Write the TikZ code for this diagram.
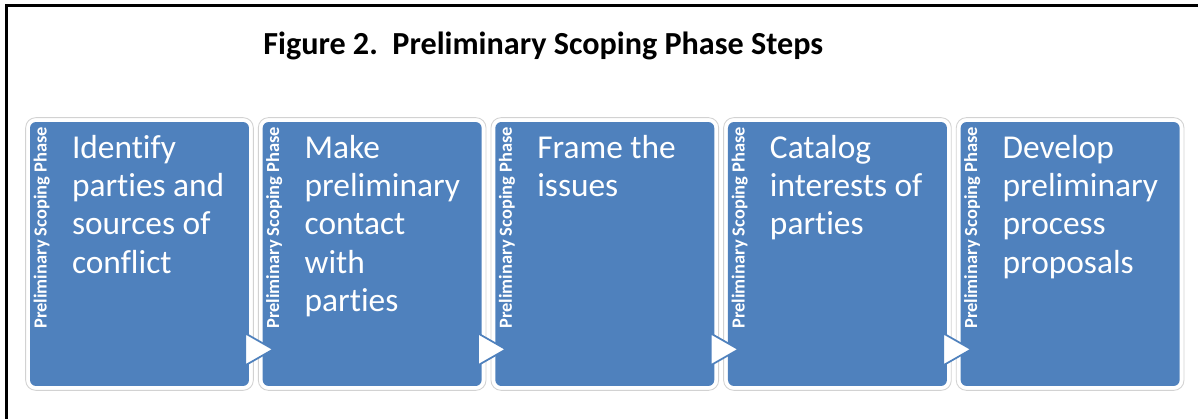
\documentclass[tikz,border=0pt]{standalone}
\usepackage{fontspec}
\setmainfont[Ligatures={NoCommon}]{Carlito}
\usepackage{tikz}
\usetikzlibrary{positioning,fit}
\definecolor{boxblue}{HTML}{4F81BD}
\tikzstyle{stepbox} = [rectangle, fill=boxblue, rounded corners=0.12cm,
                       minimum width=4.38cm, minimum height=5.28cm, inner sep=0pt]
\tikzstyle{halo} = [rectangle, draw=gray!35, line width=0.5pt,
                    rounded corners=0.2cm, inner sep=0.08cm]
\tikzstyle{steptext} = [anchor=north west, align=left, text=white, inner sep=0pt,
                        font=\fontsize{19}{21.8}\selectfont]
\tikzstyle{phase} = [rotate=90, anchor=east, text=white, inner sep=0pt,
                     font=\fontsize{10.5}{12}\selectfont\bfseries]
\tikzstyle{tri} = [fill=white, draw=boxblue, line width=1pt]

\begin{document}
\begin{tikzpicture}[x=0.02cm, y=0.02cm]
    \useasboundingbox (0,0) rectangle (1198,-419);
    \draw [line width=1.9pt] (1198,-5.7) -| (6.7,-419);

    \node [anchor=base west, font=\fontsize{18.3}{22}\selectfont\bfseries, inner sep=0pt]
        (title) at (263,-54) {Figure 2.\ \ Preliminary Scoping Phase Steps};

    \node [stepbox] (s1) at (139.5,-254) {};
    \node [stepbox, right=0.26cm of s1] (s2) {};
    \node [stepbox, right=0.26cm of s2] (s3) {};
    \node [stepbox, right=0.26cm of s3] (s4) {};
    \node [stepbox, right=0.26cm of s4] (s5) {};

    \node [halo, fit=(s1)] (h1) {};
    \node [halo, fit=(s2)] (h2) {};
    \node [halo, fit=(s3)] (h3) {};
    \node [halo, fit=(s4)] (h4) {};
    \node [halo, fit=(s5)] (h5) {};

    \node [phase] (p1) at ([xshift=0.24cm, yshift=-0.1cm]s1.north west) {Preliminary Scoping Phase};
    \node [phase] (p2) at ([xshift=0.24cm, yshift=-0.1cm]s2.north west) {Preliminary Scoping Phase};
    \node [phase] (p3) at ([xshift=0.24cm, yshift=-0.1cm]s3.north west) {Preliminary Scoping Phase};
    \node [phase] (p4) at ([xshift=0.24cm, yshift=-0.1cm]s4.north west) {Preliminary Scoping Phase};
    \node [phase] (p5) at ([xshift=0.24cm, yshift=-0.1cm]s5.north west) {Preliminary Scoping Phase};

    \node [steptext] (t1) at ([xshift=0.84cm, yshift=-0.26cm]s1.north west) {Identify\\parties and\\sources of\\conflict};
    \node [steptext] (t2) at ([xshift=0.84cm, yshift=-0.26cm]s2.north west) {Make\\preliminary\\contact\\with\\parties};
    \node [steptext] (t3) at ([xshift=0.84cm, yshift=-0.26cm]s3.north west) {Frame the\\issues};
    \node [steptext] (t4) at ([xshift=0.84cm, yshift=-0.26cm]s4.north west) {Catalog\\interests of\\parties};
    \node [steptext] (t5) at ([xshift=0.84cm, yshift=-0.26cm]s5.north west) {Develop\\preliminary\\process\\proposals};

    % arrow heads between the steps
    \draw [tri] ([xshift=-0.08cm, yshift=1.06cm]s1.south east) -- ++(28,-16) -- ++(-28,-16) -- cycle;
    \draw [tri] ([xshift=-0.08cm, yshift=1.06cm]s2.south east) -- ++(28,-16) -- ++(-28,-16) -- cycle;
    \draw [tri] ([xshift=-0.08cm, yshift=1.06cm]s3.south east) -- ++(28,-16) -- ++(-28,-16) -- cycle;
    \draw [tri] ([xshift=-0.08cm, yshift=1.06cm]s4.south east) -- ++(28,-16) -- ++(-28,-16) -- cycle;
\end{tikzpicture}
\end{document}
